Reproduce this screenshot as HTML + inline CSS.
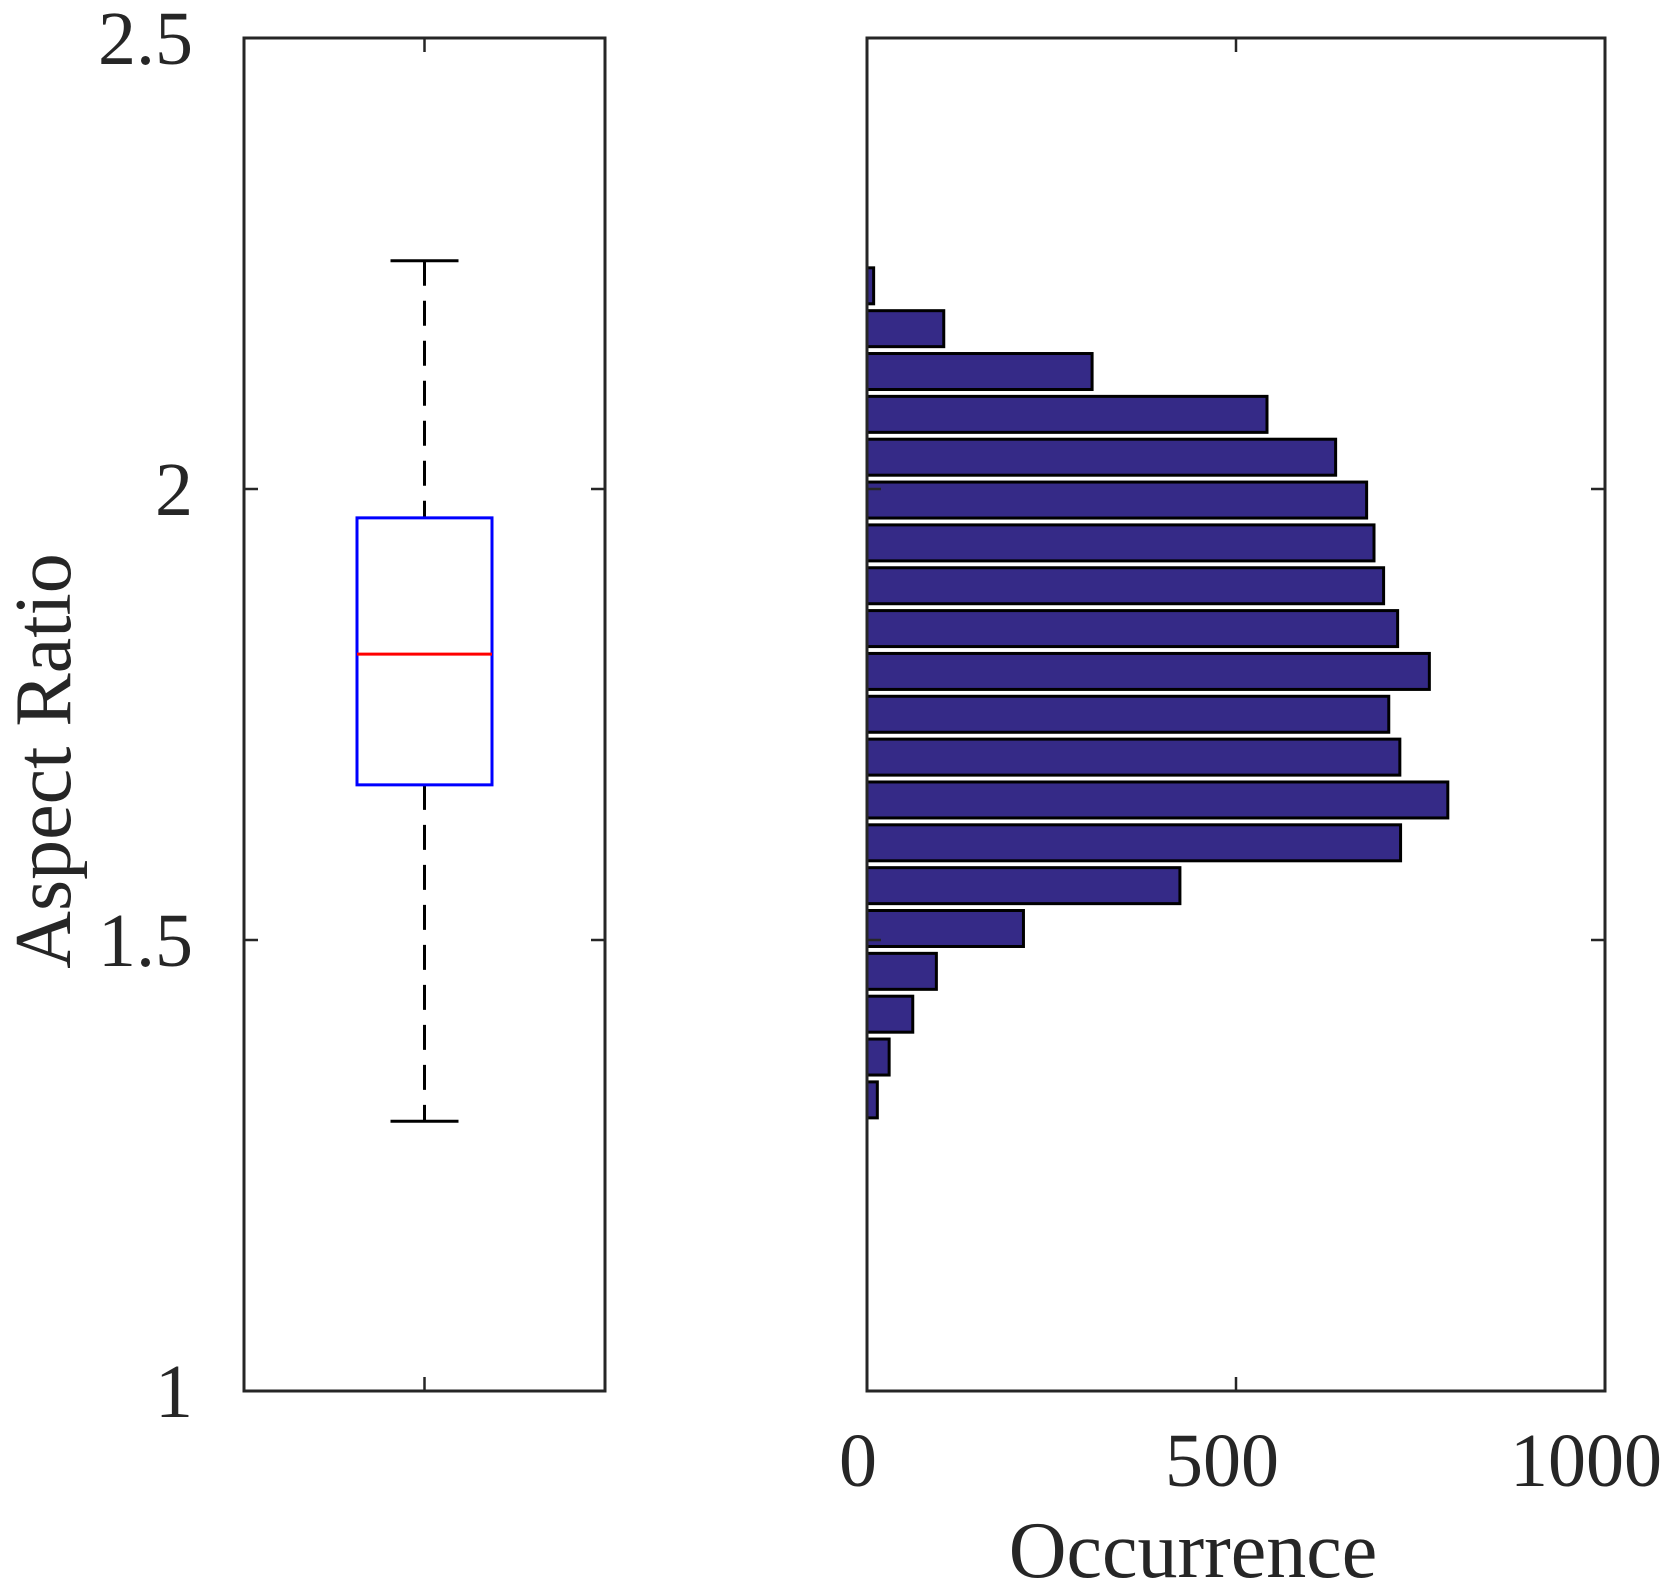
<!DOCTYPE html>
<html><head><meta charset="utf-8"><style>
html,body{margin:0;padding:0;background:#fff;}
svg{display:block;font-family:"Liberation Serif",serif;}
</style></head><body>
<svg id="chart" width="1668" height="1596" viewBox="0 0 1668 1596" xmlns="http://www.w3.org/2000/svg">
<g id="box-axes"></g>
<g id="hist-axes"></g>
</svg>
<script>
// Data
const yTicks = [1, 1.5, 2, 2.5];
const yTickLabels = ["1", "1.5", "2", "2.5"];
const xTicks = [0, 500, 1000];
const xTickLabels = ["0", "500", "1000"];
const boxStats = [1.299, 1.672, 1.817, 1.968, 2.253]; // whiskerLow, q1, median, q3, whiskerHigh
const binStart = 1.299;
const binWidth = 0.0475;
const counts = [14, 30, 62, 94, 212, 424, 723, 787, 722, 707, 762, 719, 700, 687, 677, 635, 542, 305, 104, 9];

const NS = "http://www.w3.org/2000/svg";
function mk(tag, attrs, parent) {
  const e = document.createElementNS(NS, tag);
  for (const k in attrs) e.setAttribute(k, attrs[k]);
  parent.appendChild(e);
  return e;
}
const axTop = 38, axBottom = 1391;
function yS(v) { return axBottom - (v - 1) / 1.5 * (axBottom - axTop); }
const L = {x0: 244, x1: 605};
const R = {x0: 867, x1: 1605};
function xS(v) { return R.x0 + v / 1000 * (R.x1 - R.x0); }
const axC = "#262626";

const g1 = document.getElementById("box-axes");
const g2 = document.getElementById("hist-axes");
const cx = (L.x0 + L.x1) / 2;
const hw = 67.5, cap = 34;
let w = mk("line", {x1: cx, x2: cx, y1: yS(boxStats[4]), y2: yS(boxStats[3]), stroke: "#000", "stroke-width": 3, "stroke-dasharray": "25 15"}, g1);


w = mk("line", {x1: cx, x2: cx, y1: yS(boxStats[1]), y2: yS(boxStats[0]), stroke: "#000", "stroke-width": 3, "stroke-dasharray": "25 15"}, g1);


w = mk("line", {x1: cx - cap, x2: cx + cap, y1: yS(boxStats[4]), y2: yS(boxStats[4]), stroke: "#000", "stroke-width": 3}, g1);


w = mk("line", {x1: cx - cap, x2: cx + cap, y1: yS(boxStats[0]), y2: yS(boxStats[0]), stroke: "#000", "stroke-width": 3}, g1);


w = mk("rect", {x: cx - hw, y: yS(boxStats[3]), width: 2 * hw, height: yS(boxStats[1]) - yS(boxStats[3]), fill: "none", stroke: "#0000ff", "stroke-width": 3}, g1);


w = mk("line", {x1: cx - hw, x2: cx + hw, y1: yS(boxStats[2]), y2: yS(boxStats[2]), stroke: "#ff0000", "stroke-width": 3}, g1);



const binPx = (axBottom - axTop) / 1.5 * binWidth;
counts.forEach((c, i) => {
  const y1 = yS(binStart + (i + 1) * binWidth);
  const r = mk("rect", {x: R.x0, y: y1 + binPx * 0.08, width: xS(c) - R.x0, height: binPx * 0.84, fill: "#352a87", stroke: "#000", "stroke-width": 3}, g2);
  
  
});

function frame(ax, g, name) {
  const f = mk("rect", {x: ax.x0, y: axTop, width: ax.x1 - ax.x0, height: axBottom - axTop, fill: "none", stroke: axC, "stroke-width": 3}, g);
  
  
  yTicks.forEach(v => {
    const y = yS(v);
    mk("line", {x1: ax.x0, x2: ax.x0 + 14, y1: y, y2: y, stroke: axC, "stroke-width": 2.5}, g);
    mk("line", {x1: ax.x1, x2: ax.x1 - 14, y1: y, y2: y, stroke: axC, "stroke-width": 2.5}, g);
  });
}
frame(L, g1, "boxplot-frame");
frame(R, g2, "histogram-frame");
mk("line", {x1: cx, x2: cx, y1: axTop, y2: axTop + 14, stroke: axC, "stroke-width": 2.5}, g1);
mk("line", {x1: cx, x2: cx, y1: axBottom, y2: axBottom - 14, stroke: axC, "stroke-width": 2.5}, g1);
xTicks.forEach((v, i) => {
  const x = xS(v);
  mk("line", {x1: x, x2: x, y1: axTop, y2: axTop + 14, stroke: axC, "stroke-width": 2.5}, g2);
  mk("line", {x1: x, x2: x, y1: axBottom, y2: axBottom - 14, stroke: axC, "stroke-width": 2.5}, g2);
  const t = mk("text", {x: x - 9 - i * 5, y: 1486, "text-anchor": "middle", "font-size": 76, fill: axC}, g2);
  t.textContent = xTickLabels[i];
  
  
});
yTicks.forEach((v, i) => {
  const t = mk("text", {x: 193, y: yS(v) + 26, "text-anchor": "end", "font-size": 76, fill: axC}, g1);
  t.textContent = yTickLabels[i];
  
  
});
let tt = mk("text", {x: 0, y: 0, "text-anchor": "middle", "font-size": 80, fill: axC, transform: "translate(70,761) rotate(-90)"}, g1);
tt.textContent = "Aspect Ratio";


tt = mk("text", {x: (R.x0 + R.x1) / 2 - 43, y: 1577, "text-anchor": "middle", "font-size": 80, fill: axC}, g2);
tt.textContent = "Occurrence";


</script>
</body></html>
